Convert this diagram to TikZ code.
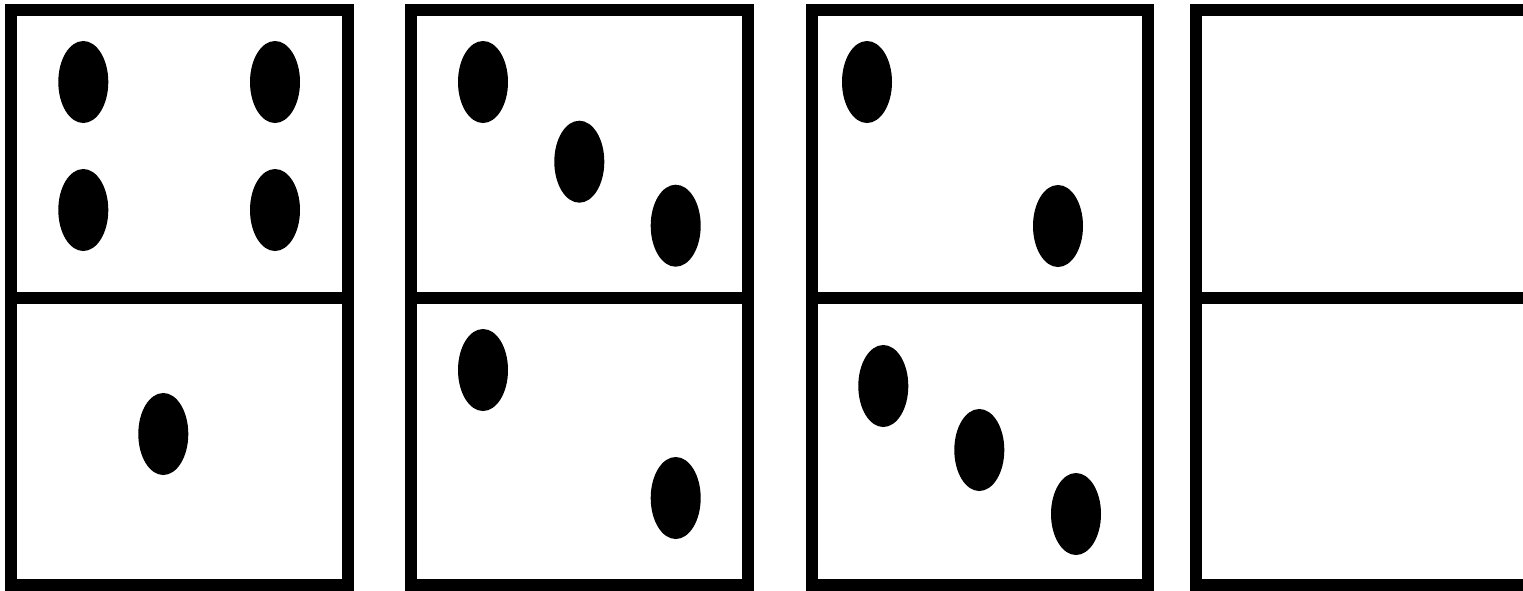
\documentclass[tikz,border=0pt]{standalone}
\begin{document}
\begin{tikzpicture}[x=1pt,y=-1pt,
  frame/.style={draw=black,line width=12pt,line join=miter},
  pip/.style={fill=black}]
\useasboundingbox (0,0) rectangle (1523,590);
\clip (0,0) rectangle (1523,590);
\fill[white] (0,0) rectangle (1523,590);
% domino 1
\draw[frame] (11,10) rectangle (347.5,585);
\draw[frame] (11,298) -- (347.5,298);
\fill[pip] (83.3,82) ellipse [x radius=25,y radius=41];
\fill[pip] (275,82) ellipse [x radius=25,y radius=41];
\fill[pip] (83.3,210) ellipse [x radius=25,y radius=41];
\fill[pip] (275,210) ellipse [x radius=25,y radius=41];
\fill[pip] (163.3,434) ellipse [x radius=25,y radius=41];
% domino 2
\draw[frame] (411,10) rectangle (747.5,585);
\draw[frame] (411,298) -- (747.5,298);
\fill[pip] (483,82) ellipse [x radius=25,y radius=41];
\fill[pip] (579.3,161.7) ellipse [x radius=25,y radius=41];
\fill[pip] (675.7,225.7) ellipse [x radius=25,y radius=41];
\fill[pip] (483,370) ellipse [x radius=25,y radius=41];
\fill[pip] (675.7,498) ellipse [x radius=25,y radius=41];
% domino 3
\draw[frame] (811.7,10) rectangle (1147.5,585);
\draw[frame] (811.7,298) -- (1147.5,298);
\fill[pip] (867,82) ellipse [x radius=25,y radius=41];
\fill[pip] (1058,226) ellipse [x radius=25,y radius=41];
\fill[pip] (883.3,386) ellipse [x radius=25,y radius=41];
\fill[pip] (979.3,450) ellipse [x radius=25,y radius=41];
\fill[pip] (1076,514) ellipse [x radius=25,y radius=41];
% domino 4
\draw[frame] (1196,10) rectangle (1532,585);
\draw[frame] (1196,298) -- (1532,298);
\end{tikzpicture}
\end{document}
